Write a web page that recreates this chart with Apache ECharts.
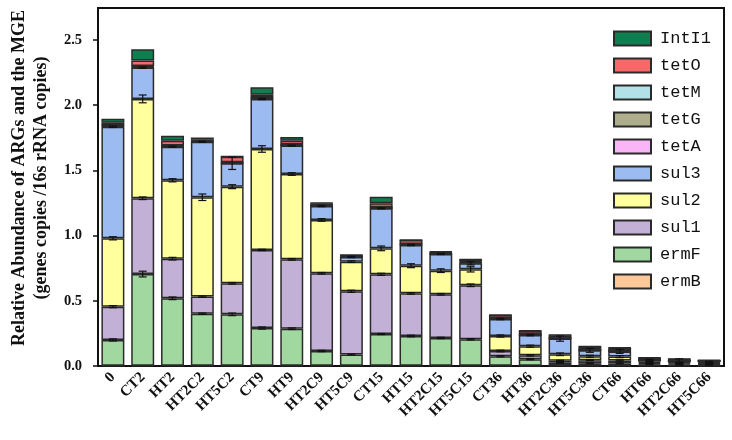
<!DOCTYPE html>
<html><head><meta charset="utf-8">
<script src="https://cdn.jsdelivr.net/npm/echarts@6/dist/echarts.min.js"></script>
<style>html,body{margin:0;padding:0;background:#fff}#c{width:732px;height:440px}</style>
</head><body><div id="c"></div>
<script>
const categories = ['0','CT2','HT2','HT2C2','HT5C2','CT9','HT9','HT2C9','HT5C9','CT15','HT15','HT2C15','HT5C15','CT36','HT36','HT2C36','HT5C36','CT66','HT66','HT2C66','HT5C66'];
const yTicks = [0, 0.5, 1.0, 1.5, 2.0, 2.5];

const ermB  = [0.002,0.002,0.002,0.002,0.002,0.002,0.002,0.002,0.002,0.002,0.002,0.002,0.002,0.002,0.002,0.002,0.002,0.002,0.003,0.002,0.002];
const ermF  = [0.198,0.703,0.517,0.399,0.394,0.289,0.284,0.113,0.086,0.243,0.228,0.213,0.203,0.073,0.050,0.023,0.018,0.018,0.010,0.008,0.007];
const sul1  = [0.255,0.581,0.304,0.131,0.238,0.599,0.532,0.596,0.485,0.458,0.327,0.335,0.414,0.040,0.030,0.015,0.025,0.022,0.010,0.010,0.008];
const sul2  = [0.524,0.762,0.601,0.762,0.741,0.774,0.654,0.409,0.227,0.199,0.212,0.181,0.122,0.115,0.070,0.050,0.030,0.030,0.010,0.008,0.006];
const sul3  = [0.856,0.240,0.258,0.426,0.179,0.384,0.218,0.107,0.036,0.307,0.159,0.128,0.046,0.130,0.085,0.120,0.045,0.040,0.015,0.012,0.010];
const tetA  = [0.005,0.005,0.003,0.003,0.003,0.004,0.003,0.003,0.002,0.003,0.003,0.003,0.005,0.002,0.002,0.002,0.002,0.002,0.002,0.002,0.002];
const tetG  = [0.003,0.003,0.002,0.002,0.002,0.002,0.002,0.002,0.002,0.002,0.002,0.003,0.005,0.002,0.002,0.002,0.002,0.002,0.002,0.002,0.002];
const tetM  = [0.003,0.005,0.003,0.002,0.003,0.004,0.003,0.003,0.002,0.003,0.003,0.003,0.006,0.002,0.002,0.002,0.002,0.002,0.002,0.002,0.002];
const tetO  = [0.020,0.042,0.038,0.012,0.043,0.022,0.030,0.012,0.008,0.031,0.030,0.006,0.012,0.025,0.025,0.020,0.022,0.020,0.008,0.007,0.004];
const IntI1 = [0.030,0.085,0.038,0.013,0.002,0.057,0.028,0.004,0.001,0.050,0.002,0.004,0.003,0.002,0.003,0.002,0.002,0.002,0.003,0.002,0.002];

const ermFErr = [0.008,0.022,0.010,0.005,0.010,0.008,0.006,0.005,0.004,0.004,0.006,0.005,0.005,0.005,0.004,0.003,0.003,0.003,0.002,0.002,0.002];
const sul1Err = [0.008,0.010,0.010,0.005,0.006,0.005,0.006,0.006,0.008,0.008,0.006,0.006,0.010,0.006,0.005,0.004,0.004,0.004,0.002,0.002,0.002];
const sul2Err = [0.012,0.030,0.012,0.025,0.015,0.025,0.010,0.010,0.006,0.018,0.015,0.014,0.020,0.008,0.008,0.010,0.008,0.008,0.003,0.003,0.002];
const sul3Err = [0.006,0.005,0.004,0.004,0.047,0.005,0.004,0.005,0.005,0.004,0.005,0.004,0.012,0.005,0.005,0.020,0.015,0.015,0.004,0.015,0.003];

const seriesDefs = [
  ['ermB', ermB, '#fdc898'],
  ['ermF', ermF, '#a0d8a0'],
  ['sul1', sul1, '#c2b0d6'],
  ['sul2', sul2, '#ffff9e'],
  ['sul3', sul3, '#9cbbf0'],
  ['tetA', tetA, '#f9b5f5'],
  ['tetG', tetG, '#aeae8c'],
  ['tetM', tetM, '#b3e1e8'],
  ['tetO', tetO, '#f86868'],
  ['IntI1', IntI1, '#0f7f4f']
];

const barSeries = seriesDefs.map(([name, data, color]) => ({
  name, type: 'bar', stack: 'total', data,
  barCategoryGap: '23%',
  itemStyle: { color, borderColor: '#2a2a2a', borderWidth: 1.5 },
  emphasis: { disabled: true }
}));

const errData = [];
const errSets = [[ermFErr, 2], [sul1Err, 3], [sul2Err, 4], [sul3Err, 5]];
for (let i = 0; i < categories.length; i++) {
  const order = [ermB, ermF, sul1, sul2, sul3];
  let cum = 0;
  const tops = order.map(a => (cum += a[i]));
  errSets.forEach(([err, k]) => { errData.push([i, tops[k - 1], err[i]]); });
}

const errSeries = {
  type: 'custom', name: 'err', z: 10,
  encode: { x: 0, y: 1 },
  data: errData,
  renderItem: function (params, api) {
    const c = api.value(0), v = api.value(1), e = api.value(2);
    const hi = api.coord([c, v + e]);
    const lo = api.coord([c, v - e]);
    const w = 4;
    const st = { stroke: '#111', lineWidth: 1.2 };
    return { type: 'group', children: [
      { type: 'line', shape: { x1: hi[0], y1: hi[1], x2: lo[0], y2: lo[1] }, style: st },
      { type: 'line', shape: { x1: hi[0] - w, y1: hi[1], x2: hi[0] + w, y2: hi[1] }, style: st },
      { type: 'line', shape: { x1: lo[0] - w, y1: lo[1], x2: lo[0] + w, y2: lo[1] }, style: st }
    ]};
  }
};

const chart = echarts.init(document.getElementById('c'), null, { renderer: 'canvas' });
chart.setOption({
  animation: false,
  backgroundColor: '#fff',
  grid: { left: 98, right: 8, top: 8, bottom: 74, show: true, borderColor: '#111', borderWidth: 2, backgroundColor: 'transparent' },
  legend: {
    data: ['IntI1','tetO','tetM','tetG','tetA','sul3','sul2','sul1','ermF','ermB'],
    orient: 'vertical', left: 608, top: 25,
    icon: 'rect', itemWidth: 37, itemHeight: 14, itemGap: 10,
    textStyle: { fontFamily: 'Liberation Mono', fontSize: 17, color: '#111', padding: [0, 0, 0, 4] }
  },
  xAxis: {
    type: 'category', data: categories,
    axisLine: { lineStyle: { color: '#111', width: 2 } },
    axisTick: { alignWithLabel: true, length: 5, lineStyle: { color: '#111', width: 1.5 } },
    axisLabel: { rotate: 45, margin: 9, fontFamily: 'Liberation Serif', fontWeight: 'bold', fontSize: 15, color: '#111', interval: 0 }
  },
  yAxis: {
    type: 'value', min: 0, max: 2.745,
    name: 'Relative Abundance of ARGs and the MGE\n(genes copies /16s rRNA copies)',
    nameLocation: 'middle', nameGap: 46, nameRotate: 90,
    nameTextStyle: { fontFamily: 'Liberation Serif', fontWeight: 'bold', fontSize: 18, color: '#111', lineHeight: 22, padding: [0, 0, 0, 18] },
    splitLine: { show: false },
    axisLine: { show: true, lineStyle: { color: '#111', width: 2 } },
    axisTick: { show: true, length: 5, customValues: yTicks, lineStyle: { color: '#111', width: 1.5 } },
    axisLabel: { customValues: yTicks, margin: 16, fontFamily: 'Liberation Serif', fontWeight: 'bold', fontSize: 14.5, color: '#111', formatter: v => v.toFixed(1) }
  },
  series: barSeries.concat([errSeries])
});
</script>
</body></html>
